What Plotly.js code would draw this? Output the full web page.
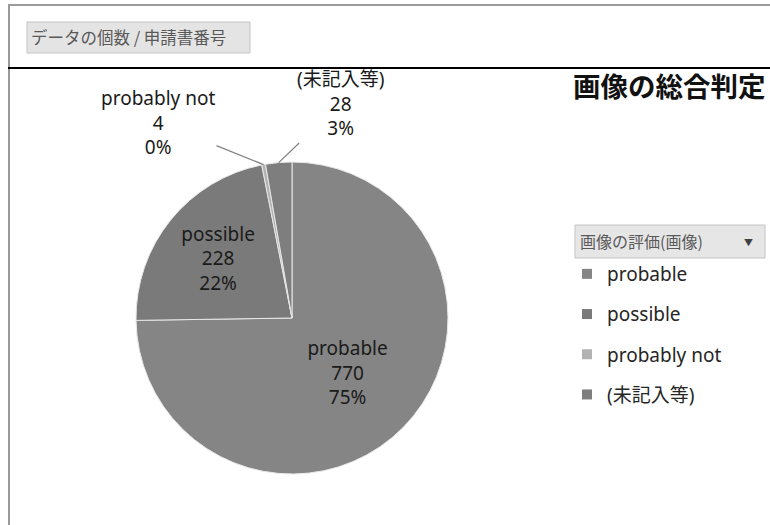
<!DOCTYPE html>
<html>
<head>
<meta charset="utf-8">
<script src="https://cdn.plot.ly/plotly-3.0.1.min.js"></script>
<style>html,body{margin:0;padding:0;background:#fff}#chart{width:770px;height:525px}</style>
</head>
<body>
<div id="chart"></div>
<script>
// ---- data ----
const categories = ['probable', 'possible', 'probably not', '(未記入等)'];
const counts = [770, 228, 4, 28];
const sliceColors = ['#858585', '#7a7a7a', '#b2b2b2', '#7e7e7e'];
const chartTitle = '画像の総合判定';
const fieldButton = 'データの個数 / 申請書番号';
const legendHeader = '画像の評価(画像)';

// ---- layout constants ----
const W = 770, H = 525;
const cx = 292, cy = 318, R = 156;
const font = 'Noto Sans, Noto Sans CJK JP, sans-serif';
const cjk = 'Noto Sans CJK JP, sans-serif';

const total = counts.reduce((a, b) => a + b, 0);

const pie = {
  type: 'pie',
  labels: categories,
  values: counts,
  sort: false,
  direction: 'clockwise',
  rotation: 0,
  marker: { colors: sliceColors, line: { color: '#e8e8e8', width: 1 } },
  texttemplate: '%{label}<br>%{value}<br>%{percent:.0%}',
  textposition: ['inside', 'inside', 'none', 'none'],
  insidetextorientation: 'horizontal',
  textfont: { family: font, size: 19, color: '#1a1a1a' },
  domain: { x: [(cx - R) / W, (cx + R) / W], y: [1 - (cy + R) / H, 1 - (cy - R) / H] },
  showlegend: false,
  hoverinfo: 'label+value+percent'
};

// legend entries (one per category, own group for spacing)
const legendTraces = categories.map((c, i) => ({
  type: 'scatter', x: [null], y: [null], mode: 'markers', name: c,
  legendgroup: 'g' + i,
  marker: { symbol: 'square', size: 10, color: sliceColors[i] },
  hoverinfo: 'skip'
}));

// outside labels for small slices, pointing at slice midpoint on the rim
const labelPos = { 2: [158, 122], 3: [340, 104] };
const annotations = [];
let cum = 0;
counts.forEach((v, i) => {
  const mid = (cum + v / 2) / total;
  cum += v;
  if (!(i in labelPos)) return;
  const a = 2 * Math.PI * mid;
  const tx = cx + R * Math.sin(a), ty = cy - R * Math.cos(a);
  annotations.push({
    xref: 'paper', yref: 'paper', x: tx / W, y: 1 - ty / H,
    text: categories[i] + '<br>' + counts[i] + '<br>' + Math.round(100 * counts[i] / total) + '%',
    showarrow: true, arrowhead: 0, arrowwidth: 1.2, arrowcolor: '#808080',
    ax: labelPos[i][0] - tx, ay: labelPos[i][1] - ty,
    font: { family: font, size: 19, color: '#1a1a1a' }, align: 'center'
  });
});

annotations.push({
  xref: 'paper', yref: 'paper', x: 768 / W, y: 1 - 85 / H, xanchor: 'right', yanchor: 'middle',
  text: '<b>' + chartTitle + '</b>', showarrow: false,
  font: { family: cjk, size: 27.5, color: '#111' }
});
annotations.push({
  xref: 'paper', yref: 'paper', x: 29 / W, y: 1 - 37 / H, xanchor: 'left', yanchor: 'middle',
  text: fieldButton, showarrow: false,
  font: { family: cjk, size: 16.5, color: '#595959' }
});
annotations.push({
  xref: 'paper', yref: 'paper', x: 578 / W, y: 1 - 241 / H, xanchor: 'left', yanchor: 'middle',
  text: legendHeader, showarrow: false,
  font: { family: cjk, size: 16, color: '#595959' }
});
annotations.push({
  xref: 'paper', yref: 'paper', x: 748 / W, y: 1 - 242 / H, xanchor: 'center', yanchor: 'middle',
  text: '▼', showarrow: false,
  font: { family: font, size: 9, color: '#404040' }
});

const shapes = [
  // frame
  { type: 'line', xref: 'paper', yref: 'paper', x0: 8 / W, x1: 1, y0: 1 - 5 / H, y1: 1 - 5 / H, line: { color: '#9a9a9a', width: 2 } },
  { type: 'line', xref: 'paper', yref: 'paper', x0: 9 / W, x1: 9 / W, y0: 0, y1: 1 - 5 / H, line: { color: '#9a9a9a', width: 2 } },
  // black rule
  { type: 'line', xref: 'paper', yref: 'paper', x0: 8 / W, x1: 1, y0: 1 - 68 / H, y1: 1 - 68 / H, line: { color: '#000', width: 2 } },
  // field button box
  { type: 'rect', xref: 'paper', yref: 'paper', x0: 27 / W, x1: 250 / W, y0: 1 - 53 / H, y1: 1 - 22 / H, fillcolor: '#e4e4e4', line: { color: '#c4c4c4', width: 1 }, layer: 'below' },
  // legend header box
  { type: 'rect', xref: 'paper', yref: 'paper', x0: 575 / W, x1: 765 / W, y0: 1 - 258 / H, y1: 1 - 225 / H, fillcolor: '#e6e6e6', line: { color: '#c4c4c4', width: 1 }, layer: 'below' }
];

const layout = {
  width: W, height: H,
  margin: { l: 0, r: 0, t: 0, b: 0 },
  paper_bgcolor: '#fff', plot_bgcolor: '#fff',
  xaxis: { visible: false }, yaxis: { visible: false },
  showlegend: true,
  legend: {
    x: 567 / W, y: 1 - 255 / H, xanchor: 'left', yanchor: 'top',
    font: { family: font, size: 19, color: '#262626' },
    tracegroupgap: 12.5, itemclick: false, itemdoubleclick: false,
    bgcolor: 'rgba(0,0,0,0)'
  },
  annotations: annotations,
  shapes: shapes
};

Plotly.newPlot('chart', [pie].concat(legendTraces), layout, { displayModeBar: false, staticPlot: true });
</script>
</body>
</html>
